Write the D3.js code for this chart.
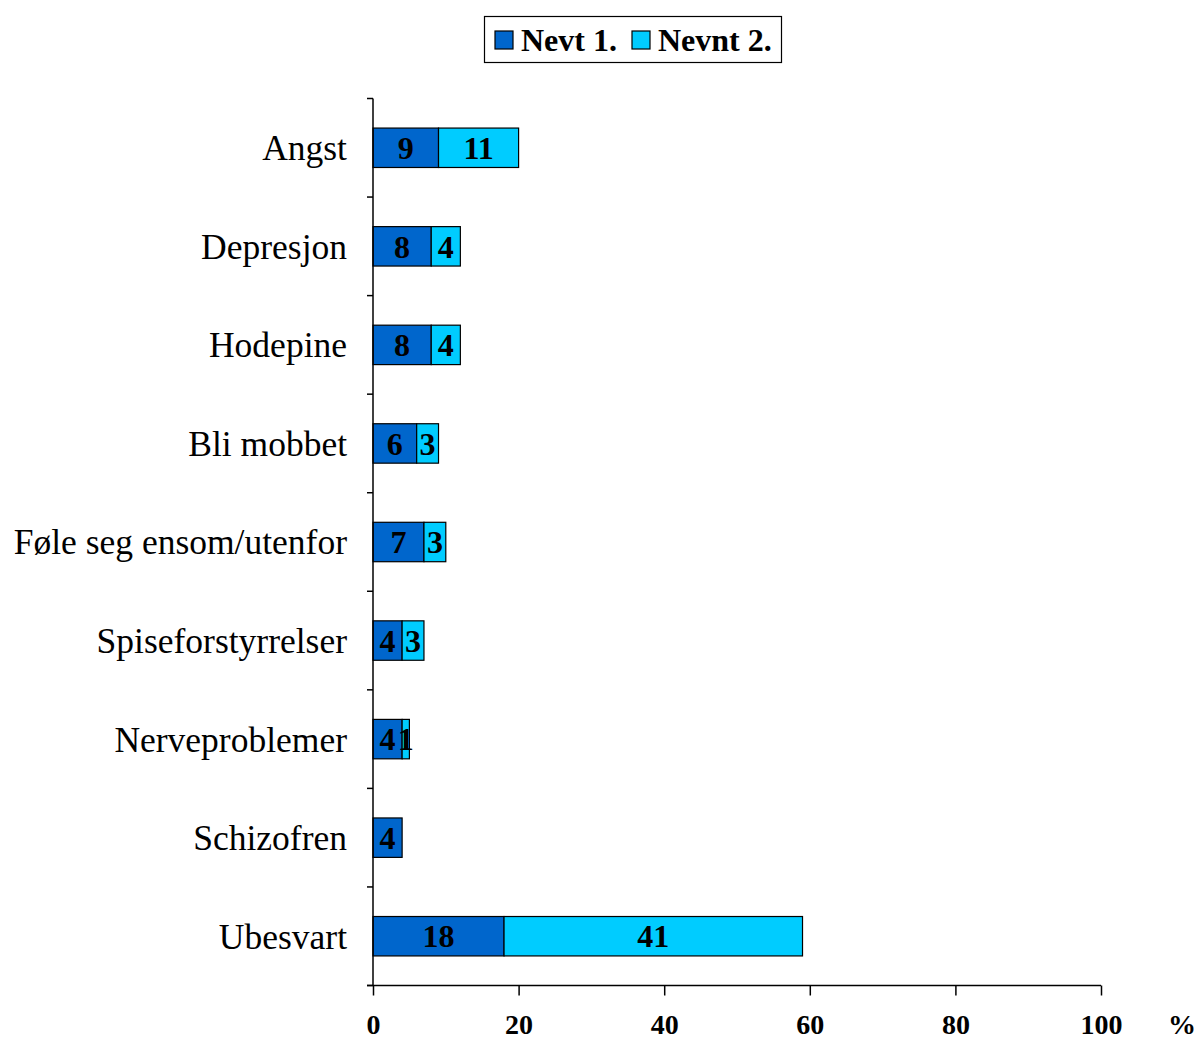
<!DOCTYPE html>
<html><head><meta charset="utf-8">
<script src="https://cdn.jsdelivr.net/npm/d3@7"></script>
<style>body{margin:0;background:#fff}</style>
</head><body>
<script>
const categories = ["Angst","Depresjon","Hodepine","Bli mobbet","Føle seg ensom/utenfor","Spiseforstyrrelser","Nerveproblemer","Schizofren","Ubesvart"];
const nevt1 = [9,8,8,6,7,4,4,4,18];
const nevnt2 = [11,4,4,3,3,3,1,0,41];
const seriesNames = ["Nevt 1.","Nevnt 2."];
const colors = ["#0066CC","#00CCFF"];
const xTicks = [0,20,40,60,80,100];

const W=1198,H=1041;
const svg=d3.select("body").append("svg").attr("width",W).attr("height",H);
const x=d3.scaleLinear().domain([0,100]).range([373,1101]);
const y=d3.scaleBand().domain(categories).range([98.5,985.5]).paddingInner(0.6).paddingOuter(0.3);
const serif="'Liberation Serif','Times New Roman',serif";

const stackData=categories.map((c,i)=>({cat:c,a:nevt1[i],b:nevnt2[i]}));
const stack=d3.stack().keys(["a","b"])(stackData);

stack.forEach((layer,si)=>{
  const g=svg.append("g");
  layer.forEach(d=>{
    const w=x(d[1])-x(d[0]);
    if(w<=0) return;
    g.append("rect").attr("x",x(d[0])).attr("y",y(d.data.cat)).attr("width",w).attr("height",y.bandwidth())
      .attr("fill",colors[si]).attr("stroke","#000").attr("stroke-width",1.2);
  });
});
stack.forEach((layer,si)=>{
  layer.forEach(d=>{
    const v=d[1]-d[0];
    if(v<=0) return;
    svg.append("text").attr("x",(x(d[0])+x(d[1]))/2).attr("y",y(d.data.cat)+y.bandwidth()/2)
      .attr("text-anchor","middle").attr("dy","0.35em")
      .style("font-family",serif).style("font-weight","bold").style("font-size","32px").text(v);
  });
});

// y axis
const yAxisG=svg.append("g").attr("transform","translate(373,0)");
yAxisG.append("line").attr("x1",0).attr("x2",0).attr("y1",98.5).attr("y2",985.5).attr("stroke","#000").attr("stroke-width",1.5);
const step=(985.5-98.5)/categories.length;
d3.range(categories.length+1).forEach(i=>{
  yAxisG.append("line").attr("x1",-6).attr("x2",0).attr("y1",98.5+i*step).attr("y2",98.5+i*step).attr("stroke","#000").attr("stroke-width",1.5);
});
categories.forEach(c=>{
  svg.append("text").attr("x",347).attr("y",y(c)+y.bandwidth()/2).attr("dy","0.35em").attr("text-anchor","end")
    .style("font-family",serif).style("font-size","35.5px").text(c);
});

// x axis
const xAxis=d3.axisBottom(x).tickValues(xTicks).tickSize(10).tickSizeOuter(0);
const xg=svg.append("g").attr("transform","translate(0,985.5)").call(xAxis);
xg.select(".domain").attr("d","M367,0H1101").attr("stroke-width",1.5);
xg.selectAll(".tick line").attr("stroke-width",1.5);
xg.selectAll(".tick text").attr("y",0).attr("dy",null).attr("transform","translate(0,48.5)")
  .style("font-family",serif).style("font-weight","bold").style("font-size","28px").attr("fill","#000");
svg.append("text").attr("x",1182).attr("y",1034).attr("text-anchor","middle")
  .style("font-family",serif).style("font-weight","bold").style("font-size","28px").text("%");

// legend
const lg=svg.append("g");
lg.append("rect").attr("x",484.5).attr("y",16.5).attr("width",297).attr("height",46).attr("fill","#fff").attr("stroke","#000").attr("stroke-width",1.2);
const lx=[495,632];
seriesNames.forEach((n,i)=>{
  lg.append("rect").attr("x",lx[i]).attr("y",31).attr("width",18).attr("height",18).attr("fill",colors[i]).attr("stroke","#000").attr("stroke-width",1.2);
  lg.append("text").attr("x",lx[i]+26).attr("y",51).style("font-family",serif).style("font-weight","bold").style("font-size","32px").text(n);
});
</script>
</body></html>
